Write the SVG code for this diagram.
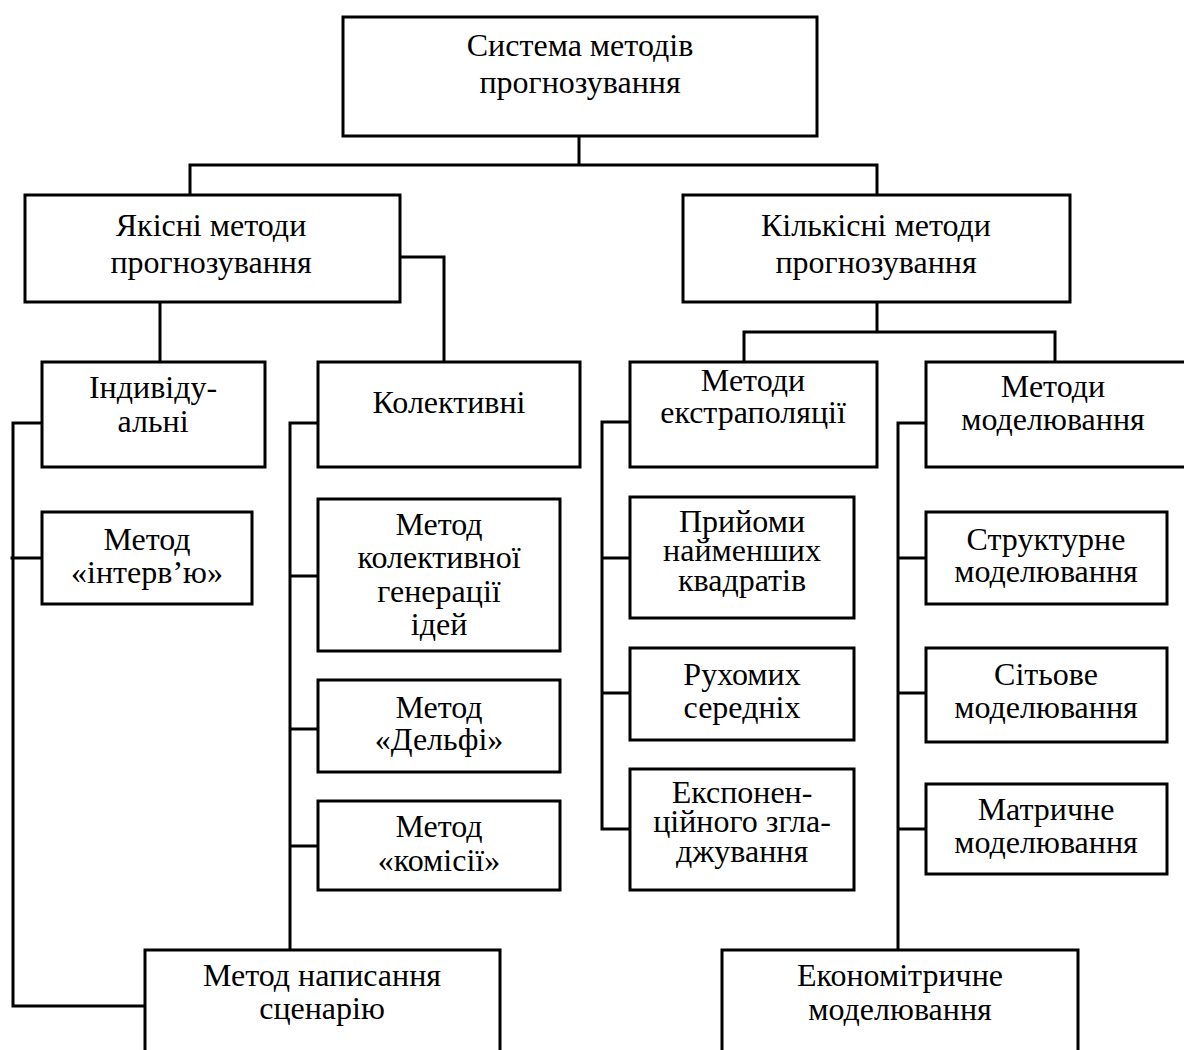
<svg xmlns="http://www.w3.org/2000/svg" width="1184" height="1050" viewBox="0 0 1184 1050">
  <style>
    .box { fill: #fff; stroke: #000; stroke-width: 3; }
    .lbl { font-family: "Liberation Serif", "Times New Roman", serif; font-size: 32px; fill: #000; text-anchor: middle; }
    .conn { fill: none; stroke: #000; stroke-width: 3; stroke-linecap: square; }
  </style>
  <rect width="1184" height="1050" fill="#fff"/>

  <!-- connectors -->
  <g id="connectors" class="conn">
    <path d="M579,136 V165 M190,165 H877 M190,165 V195 M877,165 V195"/>
    <path d="M160,302 V362 M400,257 H444 V362"/>
    <path d="M877,302 V332 M744,332 H1055 M744,332 V362 M1055,332 V362"/>
    <path d="M42,423 H13 V1006 H145 M12,558 H42"/>
    <path d="M318,423 H290 V950 M290,576 H318 M290,729 H318 M290,846 H318"/>
    <path d="M630,422 H602 V829 H630 M602,558 H630 M602,693 H630"/>
    <path d="M926,423 H898 V950 M898,558 H926 M898,693 H926 M898,829 H926"/>
  </g>

  <g id="root">
    <rect class="box" x="343" y="17" width="474" height="119"/>
    <text class="lbl" x="580" y="56">Система методів</text>
    <text class="lbl" x="580" y="93">прогнозування</text>
  </g>

  <g id="qualitative">
    <rect class="box" x="25" y="195" width="375" height="107"/>
    <text class="lbl" x="211" y="236">Якісні методи</text>
    <text class="lbl" x="211" y="273">прогнозування</text>
  </g>

  <g id="quantitative">
    <rect class="box" x="683" y="195" width="387" height="107"/>
    <text class="lbl" x="876" y="236">Кількісні методи</text>
    <text class="lbl" x="876" y="273">прогнозування</text>
  </g>

  <g id="individual">
    <rect class="box" x="42" y="362" width="223" height="105"/>
    <text class="lbl" x="153" y="398">Індивіду-</text>
    <text class="lbl" x="153" y="432">альні</text>
  </g>

  <g id="collective">
    <rect class="box" x="318" y="362" width="262" height="105"/>
    <text class="lbl" x="449" y="413">Колективні</text>
  </g>

  <g id="interview">
    <rect class="box" x="42" y="512" width="210" height="92"/>
    <text class="lbl" x="147" y="550">Метод</text>
    <text class="lbl" x="147" y="583">«інтерв’ю»</text>
  </g>

  <g id="brainstorm">
    <rect class="box" x="318" y="499" width="242" height="152"/>
    <text class="lbl" x="439" y="535">Метод</text>
    <text class="lbl" x="439" y="568">колективної</text>
    <text class="lbl" x="439" y="602">генерації</text>
    <text class="lbl" x="439" y="635">ідей</text>
  </g>

  <g id="delphi">
    <rect class="box" x="318" y="680" width="242" height="92"/>
    <text class="lbl" x="439" y="718">Метод</text>
    <text class="lbl" x="439" y="750">«Дельфі»</text>
  </g>

  <g id="commission">
    <rect class="box" x="318" y="801" width="242" height="89"/>
    <text class="lbl" x="439" y="837">Метод</text>
    <text class="lbl" x="439" y="871">«комісії»</text>
  </g>

  <g id="scenario">
    <rect class="box" x="145" y="950" width="355" height="110"/>
    <text class="lbl" x="322" y="986">Метод написання</text>
    <text class="lbl" x="322" y="1019">сценарію</text>
  </g>

  <g id="extrapolation">
    <rect class="box" x="630" y="362" width="247" height="105"/>
    <text class="lbl" x="753" y="391">Методи</text>
    <text class="lbl" x="753" y="423">екстраполяції</text>
  </g>

  <g id="modelling">
    <rect class="box" x="926" y="362" width="264" height="105"/>
    <text class="lbl" x="1053" y="397">Методи</text>
    <text class="lbl" x="1053" y="430">моделювання</text>
  </g>

  <g id="least-squares">
    <rect class="box" x="630" y="497" width="224" height="121"/>
    <text class="lbl" x="742" y="532">Прийоми</text>
    <text class="lbl" x="742" y="561">найменших</text>
    <text class="lbl" x="742" y="591">квадратів</text>
  </g>

  <g id="moving-average">
    <rect class="box" x="630" y="648" width="224" height="92"/>
    <text class="lbl" x="742" y="685">Рухомих</text>
    <text class="lbl" x="742" y="718">середніх</text>
  </g>

  <g id="exp-smoothing">
    <rect class="box" x="630" y="769" width="224" height="121"/>
    <text class="lbl" x="742" y="803">Експонен-</text>
    <text class="lbl" x="742" y="832">ційного згла-</text>
    <text class="lbl" x="742" y="862">джування</text>
  </g>

  <g id="structural">
    <rect class="box" x="926" y="512" width="241" height="92"/>
    <text class="lbl" x="1046" y="550">Структурне</text>
    <text class="lbl" x="1046" y="582">моделювання</text>
  </g>

  <g id="network">
    <rect class="box" x="926" y="648" width="241" height="94"/>
    <text class="lbl" x="1046" y="685">Сітьове</text>
    <text class="lbl" x="1046" y="718">моделювання</text>
  </g>

  <g id="matrix">
    <rect class="box" x="926" y="784" width="241" height="90"/>
    <text class="lbl" x="1046" y="820">Матричне</text>
    <text class="lbl" x="1046" y="853">моделювання</text>
  </g>

  <g id="econometric">
    <rect class="box" x="722" y="950" width="356" height="110"/>
    <text class="lbl" x="900" y="986">Економітричне</text>
    <text class="lbl" x="900" y="1020">моделювання</text>
  </g>
</svg>
